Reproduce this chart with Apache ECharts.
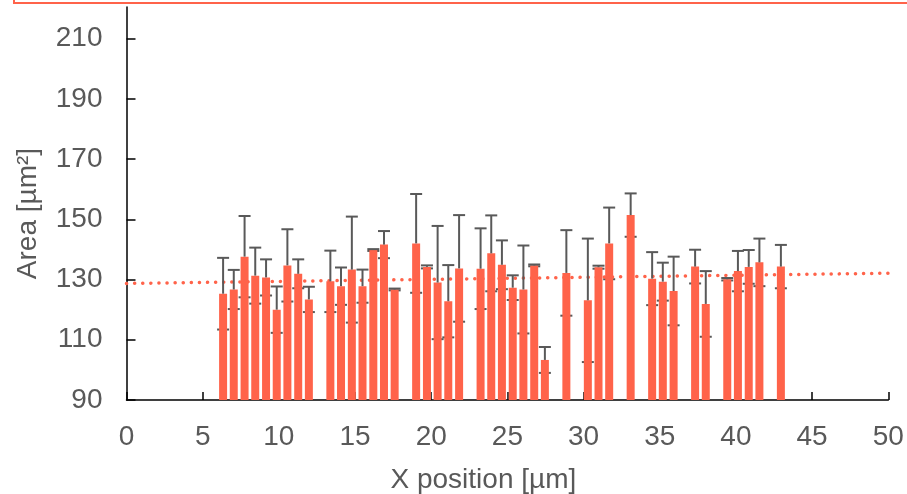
<!DOCTYPE html>
<html>
<head>
    <meta charset="UTF-8">
    <title>Area vs X position</title>
    <script type="text/javascript" src="https://cdn.jsdelivr.net/npm/echarts@6/dist/echarts.min.js"></script>
    <style>
        body { margin: 0; background: #ffffff; }
        #chart { width: 907px; height: 494px; }
    </style>
</head>
<body>
<div id="chart"></div>
<script>
    // x positions of the cells [µm]
    var xPos = [6.34, 7.04, 7.75, 8.45, 9.16, 9.86, 10.56, 11.27, 11.97,
        13.38, 14.08, 14.79, 15.49, 16.2, 16.9, 17.6,
        19.01, 19.72, 20.42, 21.12, 21.83,
        23.24, 23.94, 24.64, 25.35, 26.05, 26.76, 27.46,
        28.87,
        30.28, 30.98, 31.68,
        33.09,
        34.5, 35.2, 35.91,
        37.32, 38.02,
        39.43, 40.13, 40.84, 41.54,
        42.95];
    // mean area [µm²]
    var areaVals = [125.3, 126.7, 137.6, 131.3, 130.7, 120.0, 134.7, 131.9, 123.4,
        129.4, 127.8, 133.3, 127.8, 139.8, 141.6, 126.7,
        142.0, 134.2, 129.0, 122.8, 133.7,
        133.6, 138.7, 134.9, 127.3, 126.7, 134.7, 103.3,
        132.2,
        123.1, 134.1, 142.0,
        151.4,
        130.3, 129.3, 126.2,
        134.3, 121.9,
        130.1, 132.8, 134.2, 135.7,
        134.3];
    // standard deviation
    var areaErr = [11.9, 6.5, 13.5, 9.3, 6.0, 7.7, 12.0, 4.8, 4.2,
        10.2, 6.2, 17.6, 5.5, 0.3, 4.5, 0.3,
        16.4, 0.5, 18.8, 12.0, 17.7,
        13.4, 12.6, 8.1, 4.1, 14.6, 0.3, 4.3,
        14.2,
        20.5, 0.5, 11.9,
        7.2,
        8.8, 6.3, 11.4,
        5.6, 10.9,
        0.4, 6.7, 5.6, 7.9,
        7.2];
    // linear trend end points
    var trendX = [0, 50];
    var trendY = [128.7, 132.1];
    var yTicks = [90, 110, 130, 150, 170, 190, 210];

    var RED = '#FF634A';
    var GREY = '#595959';
    var FS = 28;

    var barData = [], errData = [];
    xPos.forEach(function (x, i) {
        barData.push([x, areaVals[i]]);
        errData.push([x, areaVals[i], areaErr[i]]);
    });
    var trendData = trendX.map(function (x, i) { return [x, trendY[i]]; });

    function upperErr(params, api) {
        var x = api.value(0), y = api.value(1), e = api.value(2);
        var top = api.coord([x, y]);
        var hi = api.coord([x, y + e]);
        var st = { stroke: GREY, lineWidth: 2 };
        return {
            type: 'group',
            children: [
                { type: 'line', shape: { x1: top[0], y1: top[1], x2: hi[0], y2: hi[1] }, style: st },
                { type: 'line', shape: { x1: hi[0] - 6, y1: hi[1], x2: hi[0] + 6, y2: hi[1] }, style: st }
            ]
        };
    }

    function lowerErr(params, api) {
        var x = api.value(0), y = api.value(1), e = api.value(2);
        var lo = api.coord([x, y - e]);
        return {
            type: 'line',
            shape: { x1: lo[0] - 6, y1: lo[1], x2: lo[0] + 6, y2: lo[1] },
            style: { stroke: GREY, lineWidth: 2 }
        };
    }

    var chart = echarts.init(document.getElementById('chart'));
    chart.setOption({
        animation: false,
        textStyle: { fontFamily: 'Liberation Sans, Arial, sans-serif' },
        graphic: [{
            type: 'rect',
            shape: { x: 14, y: -30, width: 960, height: 33 },
            style: { fill: 'none', stroke: RED, lineWidth: 2 },
            silent: true
        }],
        grid: { left: 126.5, right: 18.7, top: 7, bottom: 94, outerBoundsMode: 'none', containLabel: false },
        xAxis: {
            type: 'value',
            min: 0,
            max: 50,
            interval: 5,
            name: 'X position [µm]',
            nameLocation: 'middle',
            nameGap: 66,
            nameTextStyle: { fontSize: FS, color: GREY, padding: [0, 48, 0, 0] },
            axisLine: { lineStyle: { color: '#000', width: 1.5 } },
            axisTick: { inside: true, length: 8, lineStyle: { color: '#000', width: 1.5 } },
            axisLabel: { fontSize: FS, color: GREY, margin: 23 },
            splitLine: { show: false }
        },
        yAxis: {
            type: 'value',
            min: 90,
            max: 220.5,
            name: 'Area [µm²]',
            nameLocation: 'middle',
            nameGap: 84,
            nameTextStyle: { fontSize: FS, color: GREY, padding: [0, 20, 0, 0] },
            axisLine: { show: true, lineStyle: { color: '#000', width: 1.5 } },
            axisTick: { show: true, inside: true, length: 9, customValues: yTicks, lineStyle: { color: '#000', width: 1.5 } },
            axisLabel: { fontSize: FS, color: GREY, margin: 24, customValues: yTicks },
            splitLine: { show: false }
        },
        series: [
            {
                type: 'custom',
                renderItem: lowerErr,
                data: errData,
                encode: { x: 0, y: 1 },
                z: 1,
                silent: true
            },
            {
                type: 'line',
                data: trendData,
                showSymbol: false,
                symbol: 'none',
                lineStyle: { color: RED, width: 3.5, type: [0.1, 8], cap: 'round' },
                z: 1,
                silent: true
            },
            {
                type: 'bar',
                data: barData,
                barWidth: 8,
                itemStyle: { color: RED },
                z: 2
            },
            {
                type: 'custom',
                renderItem: upperErr,
                data: errData,
                encode: { x: 0, y: 1 },
                z: 3,
                silent: true
            }
        ]
    });
</script>
</body>
</html>
